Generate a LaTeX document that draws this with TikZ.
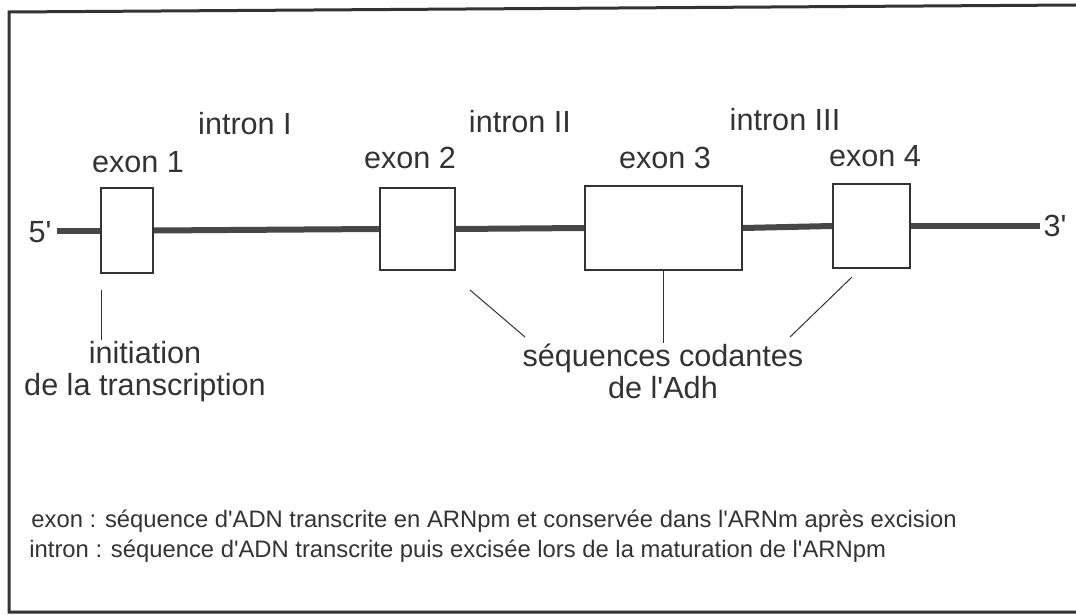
\documentclass[tikz,border=0pt]{standalone}
\usepackage{fontspec}
\setmainfont{Liberation Sans}
\usetikzlibrary{positioning}
\definecolor{ink}{rgb}{0.2,0.2,0.2}

\begin{document}
\begin{tikzpicture}[
    x=0.5pt, y=-0.5pt,
    exon/.style={
        draw=ink,
        line width=1.1pt,
        fill=white,
        inner sep=0pt
    },
    dna/.style={line width=3pt, draw=ink!90},
    lead/.style={line width=0.5pt, draw=ink},
    lbl/.style={font=\fontsize{15.3}{16}\selectfont, text=ink, inner sep=0pt, align=center},
    legend/.style={font=\fontsize{11.9}{13}\selectfont, text=ink, inner sep=0pt, anchor=west}
]
\useasboundingbox (0,0) rectangle (1076,615);
\draw[line width=1.5pt, draw=ink] (1076,5) -- (9,12) -- (9,612) -- (1076,612);

\node[exon, minimum width=26pt, minimum height=42.5pt] (ex1) at (127,230.5) {};
\node[exon, minimum width=37.5pt, minimum height=41pt] (ex2) at (417.5,229) {};
\node[exon, minimum width=78.5pt, minimum height=42pt] (ex3) at (663.5,228) {};
\node[exon, minimum width=38.5pt, minimum height=42pt] (ex4) at (871.5,226) {};

\node[lbl] (five) at (40,232) {5\textquotesingle};
\node[lbl] (three) at (1055,226) {3\textquotesingle};
\coordinate (fiveend) at (57,230.5);
\coordinate (threeend) at (1040,226);

\draw[dna] (fiveend) -- (ex1.west);
\draw[dna] (ex1.east) -- (ex2.west);
\draw[dna] (ex2.east) -- (ex3.west);
\draw[dna] (ex3.east) -- (ex4.west);
\draw[dna] (ex4.east) -- (threeend);

\node[lbl] (lex1) at (138,162) {exon 1};
\node[lbl] (lex2) at (410,158) {exon 2};
\node[lbl] (lex3) at (665,158) {exon 3};
\node[lbl] (lex4) at (875,156) {exon 4};

\node[lbl] (intI) at (245,124) {intron I};
\node[lbl] (intII) at (520,122) {intron II};
\node[lbl] (intIII) at (785,120) {intron III};

\node[lbl] (init) at (145,372) {initiation\\de la transcription};
\node[lbl] (code) at (663,371) {séquences codantes\\de l\textquotesingle Adh};

\coordinate (t1) at (101,290);
\coordinate (t2) at (470,290);
\coordinate (t4) at (852,277);
\coordinate (b1) at (101,340);
\coordinate (b2) at (525,337);
\coordinate (b4) at (790,337);

\draw[lead] (t1) -- (b1);
\draw[lead] (t2) -- (b2);
\draw[lead] (ex3.south) -- (code.north -| ex3.south);
\draw[lead] (t4) -- (b4);

\node[legend] (lgexon) at (31,521) {exon : séquence d\textquotesingle ADN transcrite en ARNpm et conservée dans l\textquotesingle ARNm après excision};
\node[legend] (lgintron) at (29,551) {intron : séquence d\textquotesingle ADN transcrite puis excisée lors de la maturation de l\textquotesingle ARNpm};
\end{tikzpicture}
\end{document}
